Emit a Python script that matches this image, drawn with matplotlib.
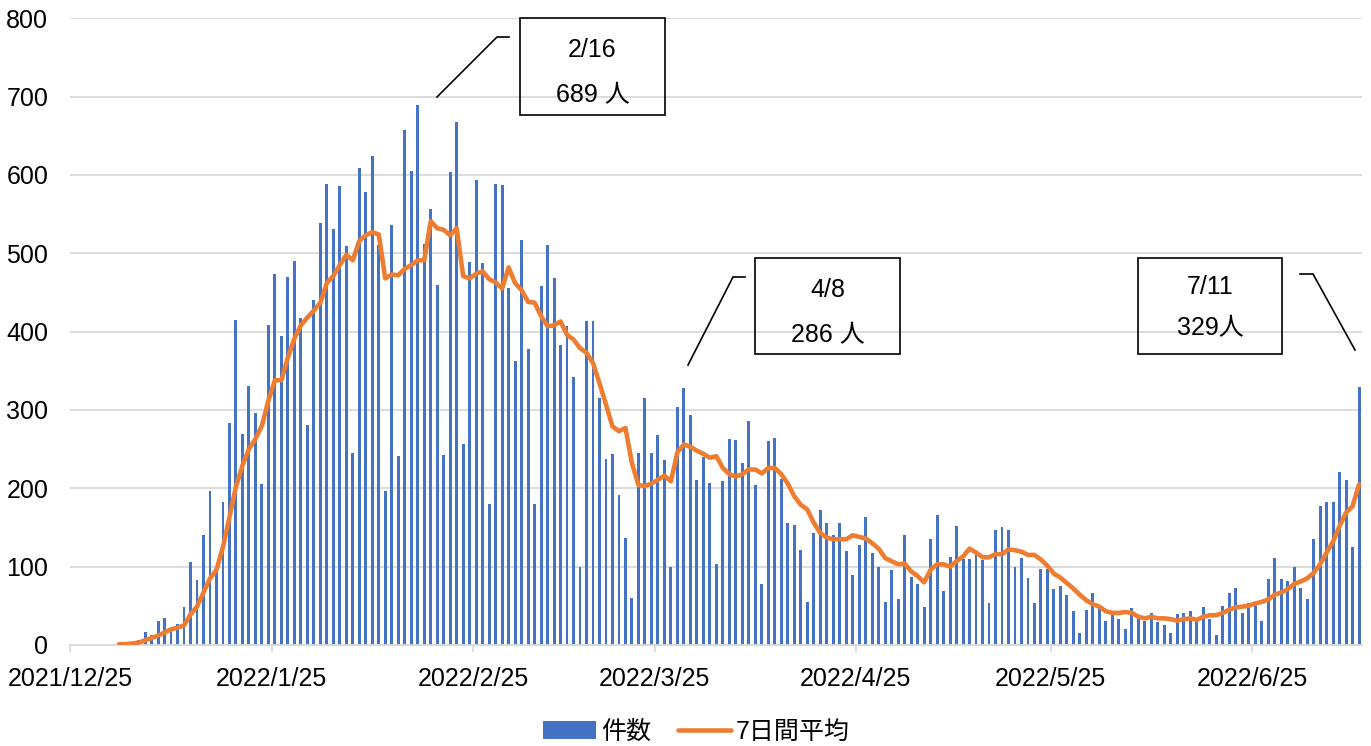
import numpy as np
import matplotlib
matplotlib.use('Agg')
import matplotlib.pyplot as plt
import matplotlib.dates as mdates
from matplotlib.patches import Rectangle
from matplotlib.lines import Line2D

plt.rcParams['font.family'] = ['Liberation Sans', 'Noto Sans CJK JP']

# daily counts, 2021/12/25 .. 2022/7/11
start = np.datetime64('2021-12-25')
end = np.datetime64('2022-07-11')

counts = [
    0, 0, 0, 0, 0, 0, 0, 1, 2, 3,
    7, 16, 13, 31, 35, 22, 27, 49, 106, 83, 140, 196,
    96, 182, 283, 415, 269, 330, 296, 205, 408, 473, 394, 470, 490, 418, 281, 440, 539,
    588, 531, 586, 509, 245, 609, 578, 624, 510, 196, 536, 241, 657, 605, 689, 512,
    557, 459, 243, 604, 667, 256, 489, 593, 488, 180, 588, 587, 456, 362, 517, 378,
    180, 458, 511, 469, 383, 407, 342, 100, 413, 414, 315, 238, 244, 191, 136, 60,
    245, 315, 245, 268, 236, 99, 304, 328, 293, 211, 240, 207, 104, 209, 263, 262,
    232, 286, 204, 78, 260, 264, 212, 156, 153, 121, 55, 143, 172, 156, 141, 156,
    120, 89, 128, 164, 118, 100, 55, 96, 59, 140, 87, 78, 48, 135, 166, 69, 112,
    152, 110, 110, 118, 109, 54, 147, 150, 147, 100, 111, 86, 53, 97, 97, 71,
    75, 64, 44, 15, 45, 67, 48, 31, 40, 33, 21, 47, 36, 31, 41, 29,
    26, 15, 39, 41, 44, 29, 48, 33, 13, 50, 67, 73, 41, 53, 55, 30,
    84, 111, 84, 82, 99, 73, 59, 135, 178, 182, 182, 221, 210, 125, 329,
]

# 7-day average as drawn, 2022/1/1 .. 2022/7/11
avg_start = np.datetime64('2022-01-01')
avg7 = [
    1, 1, 2, 3, 6, 9, 12, 16, 20, 22, 25, 39, 49, 67,
    85, 96, 125, 163, 202, 229, 250, 263, 280, 312, 338, 338, 367, 391, 408, 418, 427, 437,
    462, 471, 485, 498, 491, 516, 523, 527, 524, 468, 473, 472, 480, 485, 491, 491,
    541, 532, 530, 523, 532, 471, 468, 474, 477, 467, 463, 455, 482, 462, 453, 438,
    437, 420, 407, 408, 413, 396, 390, 379, 373, 360, 334, 307, 279, 273, 277, 232,
    204, 203, 206, 211, 216, 209, 246, 256, 253, 248, 244, 239, 241, 226, 218, 215,
    218, 224, 224, 219, 226, 226, 218, 206, 190, 179, 173, 156, 143, 137, 135, 135,
    135, 140, 138, 136, 130, 123, 111, 107, 103, 104, 94, 88, 80, 96, 103, 103, 100,
    107, 113, 123, 118, 112, 112, 116, 116, 122, 121, 119, 115, 115, 109, 101, 91,
    86, 79, 72, 64, 57, 52, 49, 43, 41, 41, 42, 41, 36, 34, 36, 34,
    34, 33, 31, 33, 34, 32, 36, 38, 38, 41, 45, 48, 49, 50, 53, 55,
    58, 64, 67, 71, 78, 81, 85, 92, 103, 118, 132, 152, 169, 177, 205,
]

tick_dates = ['2021-12-25', '2022-01-25', '2022-02-25', '2022-03-25',
              '2022-04-25', '2022-05-25', '2022-06-25']
tick_labels = ['2021/12/25', '2022/1/25', '2022/2/25', '2022/3/25',
               '2022/4/25', '2022/5/25', '2022/6/25']

notes = [('2/16', '689 人'), ('4/8', '286 人'), ('7/11', '329人')]

BLUE = '#4472C4'
ORANGE = '#ED7D31'
GRID = '#d9d9d9'
W, H = 1371, 746
FS = 18

days = np.arange(start, end + 1)
x = mdates.date2num(days) + 0.5
xa = mdates.date2num(np.arange(avg_start, end + 1)) + 0.5

fig = plt.figure(figsize=(W / 100, H / 100), dpi=100)
ax = fig.add_axes([70.4 / W, (H - 645) / H, (1362.3 - 70.4) / W, (645 - 18.3) / H])

bars = ax.bar(x, counts, width=0.45, color=BLUE, label='件数', zorder=2)
line, = ax.plot(xa, avg7, color=ORANGE, lw=3.3, solid_capstyle='round', label='7日間平均', zorder=3)

ax.set_ylim(0, 800)
ax.set_yticks(range(0, 801, 100))
ax.set_xlim(mdates.date2num(start), mdates.date2num(end + 1))
ax.set_xticks(mdates.date2num(np.array(tick_dates, dtype='datetime64[D]')))
ax.set_xticklabels(tick_labels)

ax.yaxis.grid(True, color=GRID, lw=1.3)
ax.set_axisbelow(True)
for s in ['top', 'right', 'left']:
    ax.spines[s].set_visible(False)
ax.spines['bottom'].set_color(GRID)
ax.spines['bottom'].set_linewidth(1.3)
ax.tick_params(axis='y', length=0, pad=16, labelsize=FS, colors='black')
ax.tick_params(axis='x', length=5, width=1.3, color=GRID, pad=11, labelsize=FS, labelcolor='black')

ax.legend([bars, line], ['件数', '7日間平均'], loc='center',
          bbox_to_anchor=(0.508, 1 - 732 / H), bbox_transform=fig.transFigure,
          ncol=2, frameon=False, fontsize=FS, handlelength=2.1, handleheight=0.75,
          columnspacing=1.1, handletextpad=0.2, borderpad=0)


def fpos(px, py):
    return px / W, 1 - py / H


def note_box(x0, y0, x1, y1, lines, leader, ty):
    bx, by = fpos(x0, y1)
    fig.add_artist(Rectangle((bx, by), (x1 - x0) / W, (y1 - y0) / H, transform=fig.transFigure,
                             fill=False, ec='black', lw=1.2))
    cx = (x0 + x1) / 2
    for t, yy in zip(lines, ty):
        fig.text(*fpos(cx, yy), t, ha='center', va='center', fontsize=FS)
    lx = [p[0] / W for p in leader]
    ly = [1 - p[1] / H for p in leader]
    fig.add_artist(Line2D(lx, ly, transform=fig.transFigure, color='black', lw=1.2))


note_box(520, 18, 665, 115, notes[0], [(437, 97), (497, 37), (509, 37)], [50, 95])
note_box(755, 258, 900, 354, notes[1], [(688, 365), (733, 277), (745, 277)], [290, 335])
note_box(1138, 258, 1282, 354, notes[2], [(1300, 274), (1313, 274), (1355, 350)], [287, 328])

fig.savefig('out.png', dpi=100)
